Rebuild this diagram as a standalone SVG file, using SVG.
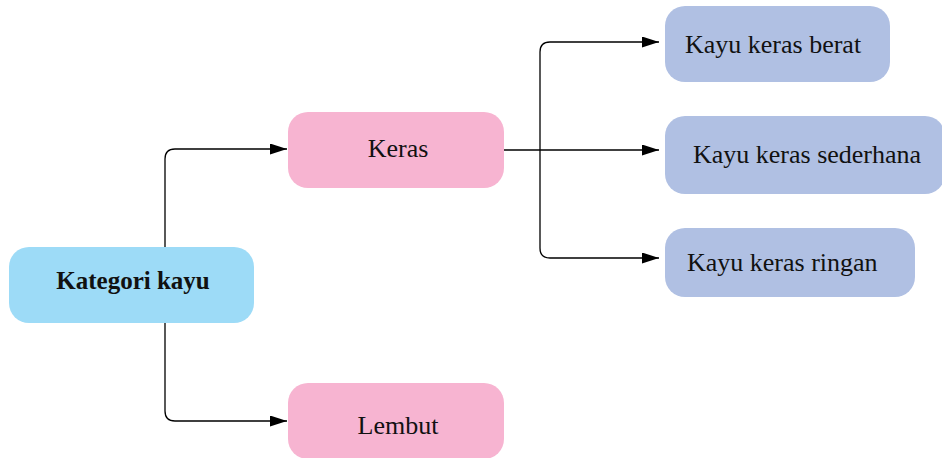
<svg xmlns="http://www.w3.org/2000/svg" width="942" height="458" viewBox="0 0 942 458">
  <defs>
    <marker id="arrow" markerUnits="userSpaceOnUse" markerWidth="18" markerHeight="12" refX="17" refY="5.5" orient="auto">
      <path d="M0,0 L17,5.5 L0,11 z" fill="#000"/>
    </marker>
    <style>
      .edge { fill: none; stroke: #000; stroke-width: 1.3; marker-end: url(#arrow); }
      .root rect { fill: #9ddbf7; }
      .mid rect { fill: #f7b4d1; }
      .leaf rect { fill: #b0c0e3; }
      text { font-family: "Liberation Serif", "Times New Roman", serif; font-size: 26px; fill: #111; }
      .root text { font-weight: bold; font-size: 25px; }
    </style>
  </defs>

  <g id="connectors">
    <path class="edge" d="M165,285 V159 Q165,149 175,149 H287"/>
    <path class="edge" d="M165,285 V411 Q165,421 175,421 H287"/>
    <path class="edge" d="M504,150 H659"/>
    <path class="edge" d="M540,150 V52 Q540,42 550,42 H659"/>
    <path class="edge" d="M540,150 V248 Q540,258 550,258 H659"/>
  </g>

  <g id="kategori-kayu" class="root">
    <rect x="9" y="247" width="245" height="76" rx="20"/>
    <text x="133" y="289" text-anchor="middle">Kategori kayu</text>
  </g>

  <g id="keras" class="mid">
    <rect x="288" y="112" width="216" height="76" rx="20"/>
    <text x="398" y="157" text-anchor="middle">Keras</text>
  </g>

  <g id="lembut" class="mid">
    <rect x="288" y="383" width="216" height="76" rx="20"/>
    <text x="398" y="434" text-anchor="middle">Lembut</text>
  </g>

  <g id="kayu-keras-berat" class="leaf">
    <rect x="665" y="6" width="225" height="76" rx="20"/>
    <text x="685" y="53">Kayu keras berat</text>
  </g>

  <g id="kayu-keras-sederhana" class="leaf">
    <rect x="665" y="116" width="280" height="78" rx="20"/>
    <text x="693" y="163">Kayu keras sederhana</text>
  </g>

  <g id="kayu-keras-ringan" class="leaf">
    <rect x="665" y="228" width="250" height="69" rx="20"/>
    <text x="687" y="271">Kayu keras ringan</text>
  </g>
</svg>
